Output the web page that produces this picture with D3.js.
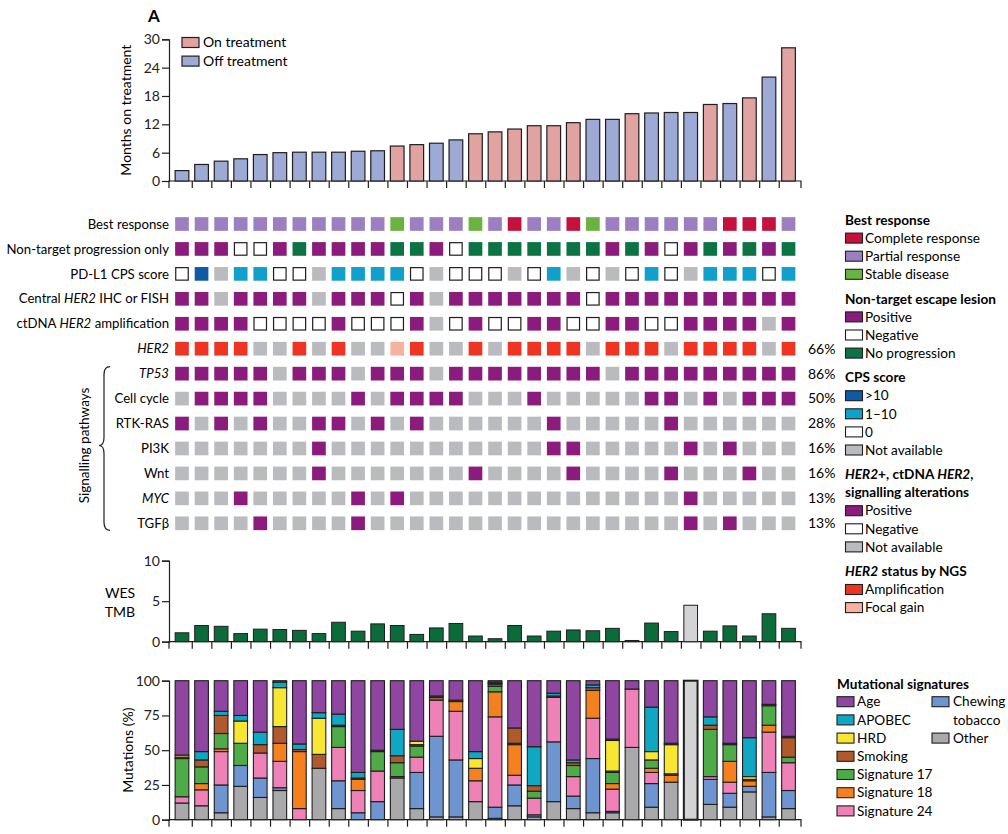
<!DOCTYPE html>
<html><head><meta charset="utf-8">
<script src="https://cdn.jsdelivr.net/npm/d3@7"></script>
<style>
body{margin:0;background:#fff}
svg{font-family:Lato,"Liberation Sans",sans-serif;color:#222}
</style></head><body>
<svg id="chart" width="1008" height="834"></svg>
<script>
// ---------------- DATA ----------------
const samples = d3.range(1, 33).map(i => "P" + i);
const months = [2.2,3.5,4.2,4.7,5.6,6.0,6.1,6.1,6.1,6.3,6.4,7.4,7.7,8.0,8.7,10.0,10.4,11.0,11.7,11.7,12.35,13.05,13.05,14.25,14.4,14.5,14.5,16.2,16.4,17.6,22.0,28.2];
const treatment = ["Off","Off","Off","Off","Off","Off","Off","Off","Off","Off","Off","On","On","Off","Off","On","On","On","On","On","On","Off","Off","On","Off","Off","Off","On","Off","On","Off","On"];
const treatmentLabels = ["On treatment","Off treatment"];
const monthTicks = [0,6,12,18,24,30];

const bestResponse = ["PR","PR","PR","PR","PR","PR","PR","PR","PR","PR","PR","SD","PR","PR","PR","SD","PR","CR","PR","PR","CR","SD","PR","PR","PR","PR","PR","PR","CR","CR","CR","PR"];
const nonTargetProgression = ["Pos","Pos","Pos","Neg","Neg","Pos","NoP","Pos","Pos","Pos","Pos","NoP","NoP","Pos","Neg","NoP","NoP","NoP","NoP","NoP","NoP","NoP","Pos","NoP","Pos","Neg","Pos","NoP","Pos","NoP","Pos","NoP"];
const cpsScore = ["0",">10","NA","1-10","1-10","0","0","NA","1-10","1-10","1-10","1-10","0","NA","0","0","0","NA","0","1-10","NA","0","NA","0","1-10","0","NA","1-10","1-10","1-10","0","1-10"];
const centralHER2 = ["Pos","Pos","NA","Pos","Pos","Pos","Pos","NA","Pos","Pos","Pos","Neg","Pos","NA","Pos","Pos","Pos","Pos","Pos","Pos","Pos","Neg","Pos","Pos","Pos","Pos","Pos","Pos","Pos","Pos","Pos","Pos"];
const ctdnaHER2 = ["Pos","Pos","Pos","Pos","Neg","Neg","Neg","Neg","Pos","Neg","Neg","Neg","Pos","NA","Neg","Pos","Neg","Neg","Pos","Pos","Neg","Neg","Pos","Pos","Neg","Neg","Pos","Pos","Pos","Pos","NA","Pos"];
const her2NGS = ["Amp","Amp","Amp","Amp","NA","NA","Amp","NA","Amp","NA","NA","Focal","Amp","NA","NA","Amp","NA","Amp","Amp","Amp","Amp","NA","Amp","Amp","Amp","NA","Amp","Amp","Amp","Amp","NA","Amp"];
const tp53      = [1,1,1,1,1,0,1,1,1,0,1,1,1,0,1,1,1,1,1,1,1,1,0,1,1,1,1,1,1,1,1,1];
const cellCycle = [0,1,1,1,1,0,0,0,0,1,0,1,1,1,1,0,0,0,1,0,0,0,0,0,1,1,0,1,0,1,1,1];
const rtkRas    = [1,0,1,0,1,0,0,1,1,0,1,0,1,0,0,0,0,0,0,1,0,0,0,0,0,1,0,0,0,0,0,0];
const pi3k      = [0,0,0,0,0,0,0,1,0,0,0,0,0,0,0,0,0,0,0,1,1,0,0,0,0,0,1,0,1,0,0,0];
const wnt       = [0,0,0,0,0,0,0,1,0,0,0,0,0,0,0,1,0,0,0,0,1,0,0,0,0,1,0,0,0,1,0,0];
const myc       = [0,0,0,1,0,0,0,0,0,1,0,1,0,0,0,0,0,0,0,0,0,0,0,0,0,0,1,0,0,0,0,0];
const tgfb      = [0,0,0,0,1,0,0,0,0,1,0,0,0,0,0,0,0,0,0,0,0,0,0,0,0,0,1,0,1,0,0,0];
const alterationFreq = ["66%","86%","50%","28%","16%","16%","13%","13%"];

const tmb = [1.1,2.0,1.9,1.0,1.55,1.5,1.4,1.0,2.4,1.3,2.2,2.0,0.9,1.7,2.25,0.7,0.37,2.0,0.7,1.3,1.45,1.35,1.65,0.15,2.3,1.25,4.5,1.3,1.95,0.7,3.45,1.65];
const tmbTicks = [0,5,10];
const notAssessed = ["P27"];

const sigNA       = [0,0,0,0,0,0,0,0,0,0,0,0,0,0,0,0,0,0,0,0,0,0,0,0,0,0,100,0,0,0,0,0];
const sigOther    = [12,10,5,24,16,21,0,37,8,0,0,30,8,2,2,13,1,10,2,13,8,5,5,52,9,27,0,11,9,20,2,8];
const sigChewing  = [0,0,20,15,14,2,0,0,20,5,13,1,26,58,41,0,8,15,1.5,43,9,39,1,0,17,0,0,18,10,4,32,13];
const sig24       = [4.5,11.5,24,0,18,19,8,0,24,16,22,0,11,26,35,15,65,7,12,32,14,29,16,42,8,0,0,2,8,0,29,20];
const sig18       = [0,4.5,2,0,0,13,41,0,0,8,0,0,0,0,7,9,18,22,0,0,0,20,4,0,3,5,0,0,15,4,5,0];
const sig17       = [27.5,12,11,16,0,0,0,0,15,0,14,10,8,0,0,0,4,1,5,0,8,0,8,0,6,0,0,34,12,0,14,4];
const sigSmoking  = [1,5,13,0,6,12,1.5,10,1,1,1,5,1,2,1,0,1.5,11,4,1,2,2,1,0,0,1,0,3,1,1,1,14];
const sigHRD      = [1.5,0,0,16,0,28,0,26,0,0,0,0,2.5,0,0,7,0.5,0,0,0,0,0,22,0,6,21,0,0,0,2,0,0];
const sigAPOBEC   = [0,6,3,4,9,4,4,4,8,4,0,19,0,1,0,5,1,0,28,2,2,2,1,0,32,1,0,6,0,28,0,1];
const sigAge      = [53.5,51,22,25,37,1,45.5,23,24,66,50,35,43.5,11,14,51,1,34,47.5,9,57,3,42,6,19,45,0,26,45,41,17,40];
const pctTicks = [0,25,50,75,100];

// ---------------- STYLE ----------------
const COL = {
  On:"#e1a2a2", Off:"#9eaad6",
  PR:"#9a80c1", CR:"#c5123d", SD:"#6bb340",
  Pos:"#8b1b7d", Neg:"#ffffff", NoP:"#0c7444", NA:"#b9bbbf",
  ">10":"#0d5aa7", "1-10":"#10a0cb", "0":"#ffffff",
  Amp:"#ee3524", Focal:"#f5b39f",
  tmb:"#0c6b3b", na:"#d3d3d6",
  age:"#8e46a1", apobec:"#0fa7c2", hrd:"#f7e733", smoking:"#b0592d",
  s17:"#4eab48", s18:"#f48020", s24:"#ee82b7", chewing:"#6f95d1", other:"#a9a9ac"
};
const STROKE = "#1e1e1e";

// ---------------- SCALES ----------------
const svg = d3.select("#chart");
const X0 = 172.2, X1 = 798.3, AX = 169, AXEND = 801;
const x = d3.scaleBand().domain(samples).range([X0, X1]).paddingInner(0.3).paddingOuter(0.15);
const edge = d3.scaleLinear().domain([0, samples.length]).range([X0, X1]);
const bw = x.bandwidth();

function styleAxis(g){
  g.attr("font-family", null).attr("font-size", 14);
  g.selectAll("line,path").attr("stroke", STROKE).attr("stroke-width", 1.2);
  g.selectAll("text").attr("fill", "#222");
}
function bottomAxis(y0){
  svg.append("g").attr("transform", `translate(0,${y0})`)
    .call(d3.axisBottom(edge).tickValues(d3.range(1, samples.length)).tickSize(7).tickFormat(""))
    .call(styleAxis)
    .call(g => g.select(".domain").attr("d", `M${AX},7V0H${AXEND}V7`));
}

// ---------------- PANEL A TITLE ----------------
svg.append("text").attr("x", 148).attr("y", 22).attr("font-size", 17).attr("font-weight", 700).text("A");

// ---------------- MONTHS BAR CHART ----------------
const yM = d3.scaleLinear().domain([0, 30]).range([181, 39.3]);
svg.append("g").attr("transform", `translate(${AX},0)`)
  .call(d3.axisLeft(yM).tickValues(monthTicks).tickSize(7).tickPadding(2))
  .call(styleAxis);
bottomAxis(yM(0));
svg.append("g").selectAll("rect").data(samples).join("rect")
  .attr("x", d => x(d)).attr("width", bw)
  .attr("y", (d, i) => yM(months[i])).attr("height", (d, i) => yM(0) - yM(months[i]))
  .attr("fill", (d, i) => COL[treatment[i]]).attr("stroke", STROKE).attr("stroke-width", 1.2);
svg.append("text").attr("transform", `translate(131,${(yM(0)+yM(30))/2}) rotate(-90)`)
  .attr("text-anchor", "middle").attr("font-size", 14).text("Months on treatment");
const tl = svg.append("g").selectAll("g").data(treatmentLabels).join("g")
  .attr("transform", (d, i) => `translate(182,${42.5 + i*18.6})`);
tl.append("rect").attr("y", -5).attr("width", 17).attr("height", 10)
  .attr("fill", (d, i) => COL[["On","Off"][i]]).attr("stroke", STROKE).attr("stroke-width", 1.2);
tl.append("text").attr("x", 21).attr("dy", "0.35em").attr("font-size", 14).text(d => d);

// ---------------- HEATMAP ----------------
const rows = [
  {vals: bestResponse, label: [["Best response"]]},
  {vals: nonTargetProgression, label: [["Non-target progression only"]]},
  {vals: cpsScore, label: [["PD-L1 CPS score"]]},
  {vals: centralHER2, label: [["Central "],["HER2",1],[" IHC or FISH"]]},
  {vals: ctdnaHER2, label: [["ctDNA "],["HER2",1],[" amplification"]]},
  {vals: her2NGS, label: [["HER2",1]]},
  {vals: tp53.map(v => v ? "Pos" : "NA"), label: [["TP53",1]]},
  {vals: cellCycle.map(v => v ? "Pos" : "NA"), label: [["Cell cycle"]]},
  {vals: rtkRas.map(v => v ? "Pos" : "NA"), label: [["RTK-RAS"]]},
  {vals: pi3k.map(v => v ? "Pos" : "NA"), label: [["PI3K"]]},
  {vals: wnt.map(v => v ? "Pos" : "NA"), label: [["Wnt"]]},
  {vals: myc.map(v => v ? "Pos" : "NA"), label: [["MYC",1]]},
  {vals: tgfb.map(v => v ? "Pos" : "NA"), label: [["TGFβ"]]}
];
const yR = d3.scalePoint().domain(d3.range(rows.length)).range([224, 523.3]);
const isEmpty = c => c === "Neg" || c === "0";
const hm = svg.append("g");
rows.forEach((r, ri) => {
  hm.append("g").selectAll("rect").data(samples).join("rect")
    .attr("x", (d, i) => x(d) + (isEmpty(r.vals[i]) ? 0.6 : 0))
    .attr("y", (d, i) => yR(ri) - bw/2 + (isEmpty(r.vals[i]) ? 0.6 : 0))
    .attr("width", (d, i) => isEmpty(r.vals[i]) ? bw - 1.2 : bw)
    .attr("height", (d, i) => isEmpty(r.vals[i]) ? bw - 1.2 : bw)
    .attr("fill", (d, i) => COL[r.vals[i]])
    .attr("stroke", (d, i) => isEmpty(r.vals[i]) ? STROKE : "none")
    .attr("stroke-width", 1.2);
  const t = hm.append("text").attr("x", 169).attr("y", yR(ri)).attr("dy", "0.35em")
    .attr("text-anchor", "end").attr("font-size", 13.2);
  r.label.forEach(seg => t.append("tspan").attr("font-style", seg[1] ? "italic" : null).text(seg[0]));
});
// frequency labels
svg.append("g").selectAll("text").data(alterationFreq).join("text")
  .attr("x", 808).attr("y", (d, i) => yR(i + 5)).attr("dy", "0.35em").attr("font-size", 14).text(d => d);
// brace
{
  const t = yR(6) - 7, b = yR(12) + 7, m = (t + b) / 2 - 3, xb = 104;
  svg.append("path").attr("fill", "none").attr("stroke", STROKE).attr("stroke-width", 1.2)
    .attr("d", `M${xb+6},${t} Q${xb},${t} ${xb},${t+8} L${xb},${m-8} Q${xb},${m} ${xb-5},${m} Q${xb},${m} ${xb},${m+8} L${xb},${b-8} Q${xb},${b} ${xb+6},${b}`);
  svg.append("text").attr("transform", `translate(89,${m}) rotate(-90)`).attr("text-anchor", "middle")
    .attr("font-size", 13.5).text("Signalling pathways");
}

// ---------------- RIGHT LEGEND ----------------
const legendGroups = [
  {title: [[["Best response"]]], items: [["Complete response","CR"],["Partial response","PR"],["Stable disease","SD"]]},
  {title: [[["Non-target escape lesion"]]], items: [["Positive","Pos"],["Negative","Neg"],["No progression","NoP"]]},
  {title: [[["CPS score"]]], items: [[">10",">10"],["1–10","1-10"],["0","0"],["Not available","NA"]]},
  {title: [[["HER2",1],["+, ctDNA "],["HER2",1],[","]],[["signalling alterations"]]], items: [["Positive","Pos"],["Negative","Neg"],["Not available","NA"]]},
  {title: [[["HER2",1],[" status by NGS"]]], items: [["Amplification","Amp"],["Focal gain","Focal"]]}
];
{
  let y = 220;
  const step = 18.1, gap = 24.5;
  const lg = svg.append("g").attr("font-size", 13.6);
  legendGroups.forEach((grp, gi) => {
    if (gi > 0) y += gap - step;
    grp.title.forEach((line, li) => {
      if (li > 0) y += step;
      const t = lg.append("text").attr("x", 845).attr("y", y).attr("dy", "0.35em").attr("font-weight", 700);
      line.forEach(seg => t.append("tspan").attr("font-style", seg[1] ? "italic" : null).text(seg[0]));
    });
    grp.items.forEach(it => {
      y += step;
      lg.append("rect").attr("x", 845.5).attr("y", y - 5).attr("width", 17).attr("height", 10)
        .attr("fill", COL[it[1]]).attr("stroke", STROKE).attr("stroke-width", 1.1);
      lg.append("text").attr("x", 865).attr("y", y).attr("dy", "0.35em").text(it[0]);
    });
    y += step;
  });
}

// ---------------- TMB ----------------
const yT = d3.scaleLinear().domain([0, 10]).range([641.7, 560.7]);
svg.append("g").attr("transform", `translate(${AX},0)`)
  .call(d3.axisLeft(yT).tickValues(tmbTicks).tickSize(7).tickPadding(2))
  .call(styleAxis);
bottomAxis(yT(0));
svg.append("g").selectAll("rect").data(samples).join("rect")
  .attr("x", d => x(d)).attr("width", bw)
  .attr("y", (d, i) => yT(tmb[i])).attr("height", (d, i) => yT(0) - yT(tmb[i]))
  .attr("fill", d => notAssessed.includes(d) ? COL.na : COL.tmb)
  .attr("stroke", STROKE).attr("stroke-width", 1);
svg.append("text").attr("x", 120).attr("y", 593).attr("dy", "0.35em").attr("text-anchor", "middle").attr("font-size", 14).text("WES");
svg.append("text").attr("x", 120).attr("y", 612).attr("dy", "0.35em").attr("text-anchor", "middle").attr("font-size", 14).text("TMB");

// ---------------- MUTATIONAL SIGNATURES ----------------
const sigKeys = ["na","other","chewing","s24","s18","s17","smoking","hrd","apobec","age"];
const sigArrays = {na: sigNA, other: sigOther, chewing: sigChewing, s24: sig24, s18: sig18, s17: sig17, smoking: sigSmoking, hrd: sigHRD, apobec: sigAPOBEC, age: sigAge};
const sigTable = samples.map((s, i) => {
  const o = {id: s};
  sigKeys.forEach(k => o[k] = sigArrays[k][i]);
  return o;
});
const stacked = d3.stack().keys(sigKeys)(sigTable);
const yS = d3.scaleLinear().domain([0, 100]).range([819.7, 680.7]);
svg.append("g").attr("transform", `translate(${AX},0)`)
  .call(d3.axisLeft(yS).tickValues(pctTicks).tickSize(7).tickPadding(2))
  .call(styleAxis);
bottomAxis(yS(0));
svg.append("g").selectAll("g").data(stacked).join("g")
  .attr("fill", d => COL[d.key])
  .selectAll("rect").data(d => d.filter(p => p[1] - p[0] > 0)).join("rect")
  .attr("x", p => x(p.data.id)).attr("width", bw)
  .attr("y", p => yS(p[1])).attr("height", p => yS(p[0]) - yS(p[1]))
  .attr("stroke", STROKE).attr("stroke-width", function(p){ return this.parentNode.__data__.key === "na" ? 2 : 1.1; });
svg.append("text").attr("transform", `translate(133,${(yS(0)+yS(100))/2}) rotate(-90)`)
  .attr("text-anchor", "middle").attr("font-size", 14).text("Mutations (%)");

// signature legend
const sigLegendCol1 = [["Age","age"],["APOBEC","apobec"],["HRD","hrd"],["Smoking","smoking"],["Signature 17","s17"],["Signature 18","s18"],["Signature 24","s24"]];
const sigLegendCol2 = [[["Chewing","tobacco"],"chewing"],[["Other"],"other"]];
{
  const lg = svg.append("g").attr("font-size", 13.6);
  const step = 18.2, y0 = 701.7;
  lg.append("text").attr("x", 837).attr("y", 684).attr("dy", "0.35em").attr("font-weight", 700).text("Mutational signatures");
  sigLegendCol1.forEach((it, i) => {
    const y = y0 + i*step;
    lg.append("rect").attr("x", 837).attr("y", y - 5).attr("width", 17).attr("height", 10)
      .attr("fill", COL[it[1]]).attr("stroke", STROKE).attr("stroke-width", 1.1);
    lg.append("text").attr("x", 857).attr("y", y).attr("dy", "0.35em").text(it[0]);
  });
  let r = 0;
  sigLegendCol2.forEach(it => {
    const y = y0 + r*step;
    lg.append("rect").attr("x", 932).attr("y", y - 5).attr("width", 17).attr("height", 10)
      .attr("fill", COL[it[1]]).attr("stroke", STROKE).attr("stroke-width", 1.1);
    it[0].forEach((line, li) => lg.append("text").attr("x", 953).attr("y", y + li*step).attr("dy", "0.35em").text(line));
    r += it[0].length;
  });
}
</script>
</body></html>
